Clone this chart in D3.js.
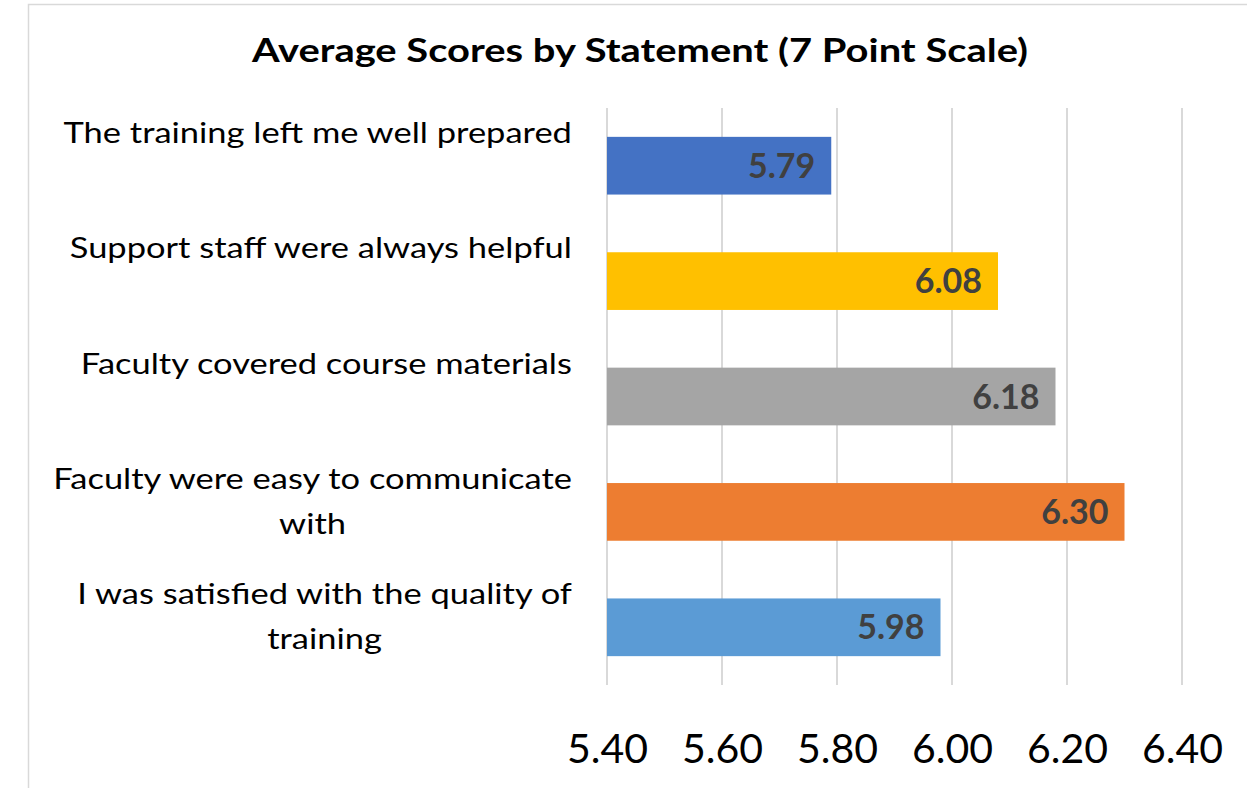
<!DOCTYPE html>
<html>
<head>
<meta charset="utf-8">
<script src="https://cdn.jsdelivr.net/npm/d3@7"></script>
<style>
  html, body { margin: 0; padding: 0; background: #fff; }
  svg { display: block; }
</style>
</head>
<body>
<svg id="chart" width="1247" height="788"></svg>
<script>
const title = "Average Scores by Statement (7 Point Scale)";
const categories = [
  "The training left me well prepared",
  "Support staff were always helpful",
  "Faculty covered course materials",
  "Faculty were easy to communicate with",
  "I was satisfied with the quality of training"
];
const values = [5.79, 6.08, 6.18, 6.30, 5.98];
const barColors = ["#4472C4", "#FFC000", "#A5A5A5", "#ED7D31", "#5B9BD5"];
const tickValues = [5.40, 5.60, 5.80, 6.00, 6.20, 6.40];
const xDomain = [5.40, 6.40];

const FONT = "Lato, 'Open Sans', sans-serif";
const STRETCH = 1.21;
const svg = d3.select("#chart");

// chart border (left + top visible)
svg.append("rect")
  .attr("x", 28.5).attr("y", 4.5)
  .attr("width", 1400).attr("height", 1000)
  .attr("fill", "none").attr("stroke", "#d9d9d9").attr("stroke-width", 1.5);

const plot = { left: 607, right: 1182, top: 108, bottom: 685 };

const x = d3.scaleLinear().domain(xDomain).range([plot.left, plot.right]);
const y = d3.scaleBand().domain(categories).range([plot.top, plot.bottom])
  .paddingInner(0.5).paddingOuter(0.25);
const color = d3.scaleOrdinal().domain(categories).range(barColors);

// title
svg.append("text")
  .attr("transform", `translate(640, 62) scale(${STRETCH}, 1)`)
  .attr("text-anchor", "middle")
  .attr("font-family", FONT).attr("font-weight", "bold")
  .attr("font-size", 33).attr("fill", "#000")
  .text(title);

// gridlines
svg.append("g").selectAll("line").data(tickValues).join("line")
  .attr("x1", d => x(d)).attr("x2", d => x(d))
  .attr("y1", plot.top).attr("y2", plot.bottom)
  .attr("stroke", "#d9d9d9").attr("stroke-width", 2);

// x axis tick labels via d3 axis
const xAxis = d3.axisBottom(x).tickValues(tickValues).tickFormat(d3.format(".2f")).tickSize(0).tickPadding(0);
const gx = svg.append("g").attr("transform", `translate(0, 763)`).call(xAxis);
gx.select(".domain").remove();
gx.selectAll("text")
  .attr("y", 0).attr("dy", 0)
  .attr("font-family", FONT).attr("font-size", 41).attr("fill", "#000");

// bars
svg.append("g").selectAll("rect").data(categories).join("rect")
  .attr("x", x(xDomain[0]))
  .attr("y", d => y(d))
  .attr("width", (d, i) => x(values[i]) - x(xDomain[0]))
  .attr("height", y.bandwidth())
  .attr("fill", d => color(d));

// value labels
svg.append("g").selectAll("text").data(categories).join("text")
  .attr("x", (d, i) => x(values[i]) - 16)
  .attr("y", d => y(d) + y.bandwidth() / 2 + 12)
  .attr("text-anchor", "end")
  .attr("font-family", FONT).attr("font-weight", "bold")
  .attr("font-size", 34).attr("fill", "#404040")
  .text((d, i) => d3.format(".2f")(values[i]));

// category labels with wrapping
const labelRight = 572;
const maxLabelWidth = 530;
const labelSize = 28.5;
const lineHeight = 45;
const gLab = svg.append("g").attr("font-family", FONT).attr("font-size", labelSize).attr("fill", "#000");

categories.forEach(cat => {
  const words = cat.split(" ");
  const measure = gLab.append("text").attr("visibility", "hidden");
  const w = s => { measure.text(s); return measure.node().getComputedTextLength() * STRETCH; };
  const lines = [];
  let cur = [];
  words.forEach(word => {
    const test = cur.concat([word]).join(" ");
    if (w(test) > maxLabelWidth && cur.length) {
      lines.push(cur.join(" "));
      cur = [word];
    } else {
      cur.push(word);
    }
  });
  if (cur.length) lines.push(cur.join(" "));
  const widths = lines.map(w);
  measure.remove();
  const maxW = d3.max(widths);
  const cx = labelRight - maxW / 2;
  const cy = y(cat) + y.bandwidth() / 2;
  lines.forEach((l, i) => {
    gLab.append("text")
      .attr("transform", `translate(${cx}, ${cy - 33 + i * lineHeight + 10}) scale(${STRETCH}, 1)`)
      .attr("text-anchor", "middle")
      .text(l);
  });
});
</script>
</body>
</html>
